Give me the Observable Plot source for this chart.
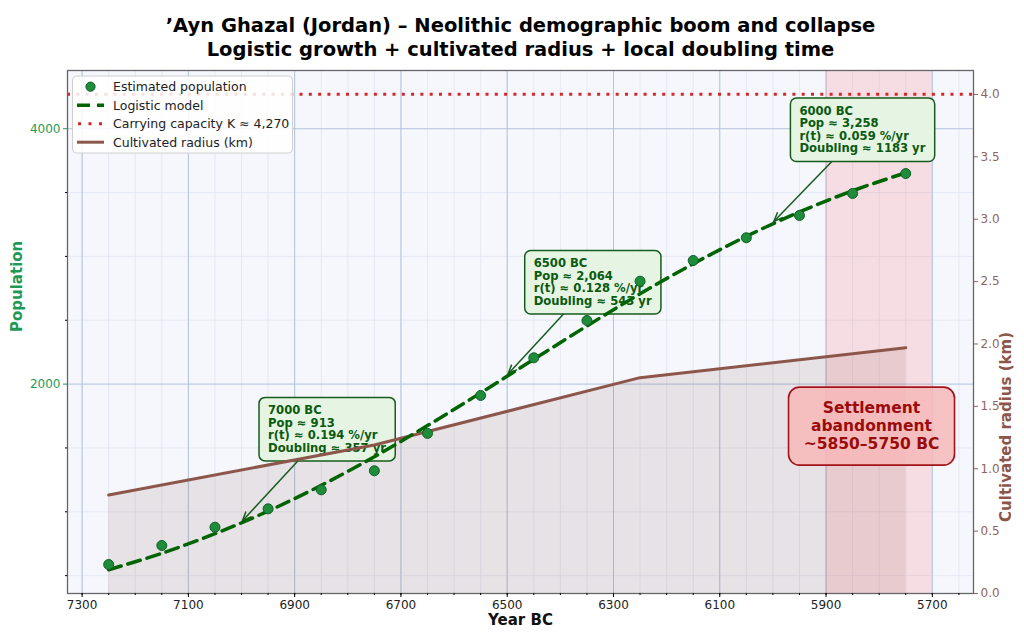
<!DOCTYPE html>
<html>
<head>
<meta charset="utf-8">
<script src="https://cdn.jsdelivr.net/npm/d3@7"></script>
<script src="https://cdn.jsdelivr.net/npm/@observablehq/plot@0.6"></script>
<style>
  html, body { margin: 0; padding: 0; background: #ffffff; }
  #chart { width: 1024px; height: 640px; }
</style>
</head>
<body>
<div id="chart"></div>
<script>
// ---------------- data ----------------
const years = [7250, 7150, 7050, 6950, 6850, 6750, 6650, 6550, 6450, 6350, 6250, 6150, 6050, 5950, 5850, 5750];
const estimatedPopulation = [587, 736, 879, 1023, 1172, 1321, 1614, 1911, 2206, 2498, 2806, 2968, 3146, 3321, 3493, 3649];
const modelYears = [7250, 7150, 7050, 6950, 6850, 6750, 6650, 6550, 6450, 6350, 6250, 6150, 6050, 5950, 5850, 5750];
const modelPopulation = [546, 675, 828, 1005, 1207, 1431, 1675, 1931, 2194, 2455, 2707, 2942, 3157, 3348, 3514, 3655];
const radiusYears = [7250, 6750, 6250, 5750];
const radiusKm = [0.79, 1.19, 1.73, 1.97];
const carryingCapacity = 4270;
const annotYears = [7000, 6500, 6000];
const annotPop = [913, 2064, 3258];
const annotRate = ["0.194", "0.128", "0.059"];
const annotDoubling = [357, 543, 1183];
const abandonSpan = [5900, 5700];
const xTicks = [7300, 7100, 6900, 6700, 6500, 6300, 6100, 5900, 5700];
const popTicks = [2000, 4000];
const popMinorTicks = [500, 1000, 1500, 2500, 3000, 3500];
const radiusTicks = [0, 0.5, 1.0, 1.5, 2.0, 2.5, 3.0, 3.5, 4.0];
const titleLines = ["\u2019Ayn Ghazal (Jordan) \u2013 Neolithic demographic boom and collapse",
                    "Logistic growth + cultivated radius + local doubling time"];
const legendLabels = ["Estimated population", "Logistic model", "Carrying capacity K \u2248 4,270", "Cultivated radius (km)"];
const abandonLines = ["Settlement", "abandonment", "~5850\u20135750 BC"];

// ---------------- scales ----------------
const xDomain = [7327.5, 5622.5];
const yDomain = [360, 4456];
const rDomain = [0, 4.192];
const rToY = r => yDomain[0] + (r - rDomain[0]) * (yDomain[1] - yDomain[0]) / (rDomain[1] - rDomain[0]);
const yToR = y => rDomain[0] + (y - yDomain[0]) * (rDomain[1] - rDomain[0]) / (yDomain[1] - yDomain[0]);

const GREEN_TXT = "#1f9a55";
const BROWN = "#8c564b";
const DKGREEN = "#006400";
const FONT = '"DejaVu Sans", sans-serif';

const popData = years.map((x, i) => ({x, y: estimatedPopulation[i]}));
const modelData = modelYears.map((x, i) => ({x, y: modelPopulation[i]}));
const radiusData = radiusYears.map((x, i) => ({x, y: rToY(radiusKm[i]), y0: rToY(0)}));
const minorX = d3.range(5650, 7301, 50);

const chart = Plot.plot({
  width: 1024,
  height: 640,
  marginTop: 70,
  marginBottom: 47,
  marginLeft: 67,
  marginRight: 51,
  style: {fontFamily: FONT, fontSize: "12px", background: "white", overflow: "visible"},
  x: {domain: xDomain},
  y: {domain: yDomain},
  marks: [
    Plot.frame({fill: "#f5f7fd", stroke: null}),
    Plot.gridX(minorX, {stroke: "#dfe5f1", strokeOpacity: 1, strokeWidth: 0.8}),
    Plot.gridY(popMinorTicks, {stroke: "#dfe5f1", strokeOpacity: 1, strokeWidth: 0.8}),
    Plot.gridX(xTicks, {stroke: "#b3c3de", strokeOpacity: 1, strokeWidth: 1}),
    Plot.gridY(popTicks, {stroke: "#b3c3de", strokeOpacity: 1, strokeWidth: 1}),
    Plot.rect([{x1: abandonSpan[0], x2: abandonSpan[1]}], {x1: "x1", x2: "x2", fill: "red", fillOpacity: 0.1}),
    Plot.areaY(radiusData, {x: "x", y1: "y0", y2: "y", fill: BROWN, fillOpacity: 0.13}),
    Plot.ruleY([carryingCapacity], {stroke: "#d62728", strokeWidth: 3, strokeDasharray: "3,6.3"}),
    Plot.line(radiusData, {x: "x", y: "y", stroke: BROWN, strokeWidth: 3}),
    Plot.line(modelData, {x: "x", y: "y", stroke: DKGREEN, strokeWidth: 3.5, strokeDasharray: "13,7", curve: "catmull-rom"}),
    Plot.dot(popData, {x: "x", y: "y", r: 5, fill: "#1f8c3b", stroke: "#0e5e24", strokeWidth: 1}),
    Plot.frame({stroke: "#666", strokeWidth: 1.3}),
    Plot.axisX(xTicks, {anchor: "bottom", tickSize: 4, tickPadding: 3, fontSize: 12, fill: "#222", tickFormat: d => String(d), label: null}),
    Plot.axisX(minorX, {anchor: "bottom", tickSize: 2, tickFormat: () => "", label: null}),
    Plot.axisY(popTicks, {anchor: "left", tickSize: 4, tickPadding: 3, fontSize: 12, color: GREEN_TXT, tickFormat: d => String(d), label: null}),
    Plot.axisY(popMinorTicks, {anchor: "left", tickSize: 2, tickFormat: () => "", label: null}),
    Plot.axisY(radiusTicks.map(rToY), {anchor: "right", tickSize: 4, tickPadding: 3, fontSize: 12, color: "#93645b", tickFormat: d => yToR(d).toFixed(1), label: null}),
    Plot.text([titleLines[0]], {frameAnchor: "top", dy: -52, fontSize: 19.5, fontWeight: "bold", fill: "#000"}),
    Plot.text([titleLines[1]], {frameAnchor: "top", dy: -28, fontSize: 19.5, fontWeight: "bold", fill: "#000"}),
    Plot.text(["Year BC"], {frameAnchor: "bottom", dy: 31, fontSize: 15, fontWeight: "bold", fill: "#111"}),
    Plot.text(["Population"], {frameAnchor: "left", dx: -50, rotate: -90, fontSize: 15, fontWeight: "bold", fill: GREEN_TXT}),
    Plot.text(["Cultivated radius (km)"], {frameAnchor: "right", dx: 33, rotate: -90, fontSize: 15, fontWeight: "bold", fill: BROWN})
  ]
});

document.getElementById("chart").appendChild(chart);

// ---------------- annotations ----------------
const svg = d3.select(chart);
const sx = chart.scale("x"), sy = chart.scale("y");
const fx0 = Math.min(...sx.range), fx1 = Math.max(...sx.range);
const fy0 = Math.min(...sy.range), fy1 = Math.max(...sy.range);
const fmt = d3.format(",");

// insert the annotation boxes just below the radius line (data lines drawn over them)
let beforeNode = null;
svg.selectAll("g").each(function () {
  if (!beforeNode && this.getAttribute("stroke") === BROWN && this.getAttribute("fill") === "none") beforeNode = this;
});
const annG = d3.select(beforeNode ? beforeNode.parentNode : chart)
  .insert("g", () => beforeNode)
  .attr("font-family", FONT).attr("text-anchor", "start");

annotYears.forEach((yr, i) => {
  const px = sx.apply(yr), py = sy.apply(annotPop[i]);
  const lines = [`${yr} BC`, `Pop \u2248 ${fmt(annotPop[i])}`, `r(t) \u2248 ${annotRate[i]} %/yr`, `Doubling \u2248 ${annotDoubling[i]} yr`];
  const left = px + 18, top = py - 125, h = 63.5;
  const g = annG.append("g");
  const rect = g.append("rect");
  const t = g.append("text").attr("font-size", 11.6).attr("font-weight", "bold").attr("fill", "#0a5a10").attr("text-anchor", "start");
  lines.forEach((l, j) => t.append("tspan").attr("x", left + 9).attr("y", top + 16.8 + j * 12.5).text(l));
  const w = t.node().getBBox().width + 18;
  rect.attr("x", left).attr("y", top).attr("width", w).attr("height", h).attr("rx", 6)
      .attr("fill", "#e6f4e3").attr("stroke", "#165c1c").attr("stroke-width", 1.5);
  const cx = left + w / 2, cy = top + h / 2;
  const dx = px - cx, dy = py - cy;
  const tt = Math.min((w / 2) / Math.abs(dx || 1e-9), (h / 2) / Math.abs(dy || 1e-9));
  const sxp = cx + dx * tt, syp = cy + dy * tt;
  const a = Math.atan2(dy, dx);
  const ex = px - Math.cos(a) * 2, ey = py - Math.sin(a) * 2;
  g.append("line").attr("x1", sxp).attr("y1", syp).attr("x2", ex).attr("y2", ey)
      .attr("stroke", "#165c1c").attr("stroke-width", 1.5);
  const hl = 10, ha = 0.38;
  g.append("path")
      .attr("d", `M${ex - hl * Math.cos(a - ha)},${ey - hl * Math.sin(a - ha)} L${ex},${ey} L${ex - hl * Math.cos(a + ha)},${ey - hl * Math.sin(a + ha)}`)
      .attr("fill", "none").attr("stroke", "#165c1c").attr("stroke-width", 1.5);
});

// settlement abandonment box
{
  const cx = fx0 + 0.888 * (fx1 - fx0), cy = fy1 - 0.319 * (fy1 - fy0);
  const w = 166, h = 78;
  const g = svg.append("g").attr("font-family", FONT);
  g.append("rect").attr("x", cx - w / 2).attr("y", cy - h / 2).attr("width", w).attr("height", h).attr("rx", 11)
      .attr("fill", "#f7b9b9").attr("fill-opacity", 0.85).attr("stroke", "#a3141a").attr("stroke-width", 1.6);
  const t = g.append("text").attr("font-size", 15.5).attr("font-weight", "bold").attr("fill", "#9a0c0c").attr("text-anchor", "middle");
  abandonLines.forEach((l, j) => t.append("tspan").attr("x", cx).attr("y", cy - 19 + j * 18 + 5.5).text(l));
}

// legend
{
  const lx = fx0 + 5.5, ly = fy0 + 6, lw = 220, lh = 77;
  const g = svg.append("g").attr("font-family", FONT).attr("text-anchor", "start");
  g.append("rect").attr("x", lx).attr("y", ly).attr("width", lw).attr("height", lh).attr("rx", 4)
      .attr("fill", "white").attr("fill-opacity", 0.85).attr("stroke", "#d0d0d0").attr("stroke-width", 1);
  const rows = [16.7, 35.2, 53.7, 72.2].map(v => fy0 + v);
  const hx0 = fx0 + 10, hx1 = fx0 + 37;
  g.append("circle").attr("cx", (hx0 + hx1) / 2).attr("cy", rows[0]).attr("r", 4.6)
      .attr("fill", "#1f8c3b").attr("stroke", "#0e5e24").attr("stroke-width", 1);
  g.append("line").attr("x1", hx0).attr("x2", hx1).attr("y1", rows[1]).attr("y2", rows[1])
      .attr("stroke", DKGREEN).attr("stroke-width", 3.5).attr("stroke-dasharray", "13,7");
  g.append("line").attr("x1", hx0 + 1).attr("x2", hx1).attr("y1", rows[2]).attr("y2", rows[2])
      .attr("stroke", "#d62728").attr("stroke-width", 3).attr("stroke-dasharray", "3,7.5");
  g.append("line").attr("x1", hx0).attr("x2", hx1).attr("y1", rows[3]).attr("y2", rows[3])
      .attr("stroke", BROWN).attr("stroke-width", 3);
  legendLabels.forEach((l, j) => {
    g.append("text").attr("x", fx0 + 46).attr("y", rows[j]).attr("dy", "0.35em").attr("text-anchor", "start")
      .attr("font-size", 12.5).attr("fill", "#222").text(l);
  });
}
</script>
</body>
</html>
